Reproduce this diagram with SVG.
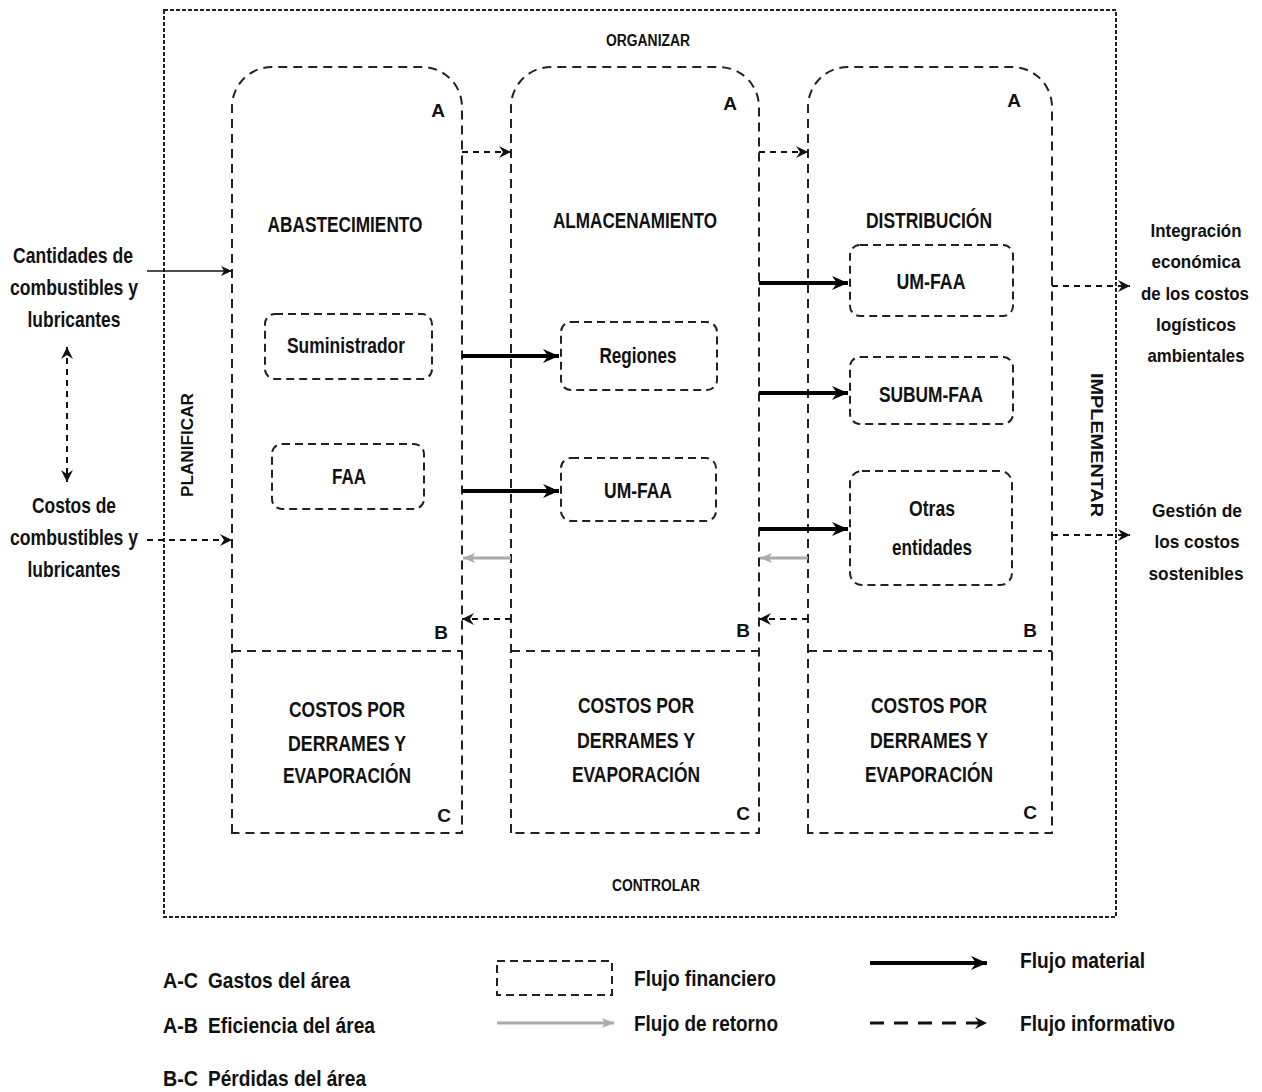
<svg xmlns="http://www.w3.org/2000/svg" width="1262" height="1092" viewBox="0 0 1262 1092">
<style>
.t{font-family:"Liberation Sans",Arial,sans-serif;font-weight:bold;font-size:22px;fill:#111;text-anchor:middle}
.s{font-size:16px}
.k{font-size:19px}
.r{font-size:19px}
.l{text-anchor:start}
.col{fill:none;stroke:#222;stroke-width:2;stroke-dasharray:9 6}
.box{fill:none;stroke:#222;stroke-width:2;stroke-dasharray:8 5}
.outer{fill:none;stroke:#222;stroke-width:2;stroke-dasharray:4 2}
.mat{fill:none;stroke:#000;stroke-width:4}
.info{fill:none;stroke:#111;stroke-width:2;stroke-dasharray:6 5}
.thin{fill:none;stroke:#111;stroke-width:1.6}
.ret{fill:none;stroke:#aaa;stroke-width:3}
</style>
<defs>
<marker id="mh" markerUnits="userSpaceOnUse" markerWidth="18" markerHeight="14" refX="16" refY="7" orient="auto"><path d="M0,0 L16,7 L0,14 L5,7 Z" fill="#000"/></marker>
<marker id="ih" markerUnits="userSpaceOnUse" markerWidth="13" markerHeight="12" refX="12" refY="6" orient="auto-start-reverse"><path d="M0,0 L12,6 L0,12 L4,6 Z" fill="#111"/></marker>
<marker id="th" markerUnits="userSpaceOnUse" markerWidth="12" markerHeight="10" refX="11" refY="5" orient="auto"><path d="M0,0 L11,5 L0,10 L3,5 Z" fill="#111"/></marker>
<marker id="gh" markerUnits="userSpaceOnUse" markerWidth="13" markerHeight="10" refX="12" refY="5" orient="auto"><path d="M0,0 L12,5 L0,10 L3,5 Z" fill="#aaa"/></marker>
</defs>
<rect width="1262" height="1092" fill="#fff"/>

<g id="marco">
<rect class="outer" x="164" y="10" width="952" height="907"/>
<text class="t s" x="648" y="46" textLength="84" lengthAdjust="spacingAndGlyphs">ORGANIZAR</text>
<text class="t s" x="656" y="891" textLength="88" lengthAdjust="spacingAndGlyphs">CONTROLAR</text>
<text class="t s" transform="translate(193,445) rotate(-90)" x="0" y="0" textLength="104" lengthAdjust="spacingAndGlyphs">PLANIFICAR</text>
<text class="t s" transform="translate(1091,445) rotate(90)" x="0" y="0" textLength="144" lengthAdjust="spacingAndGlyphs">IMPLEMENTAR</text>
</g>

<g id="abastecimiento">
<path class="col" d="M232,833 V107 A40,40 0 0 1 272,67 H422 A40,40 0 0 1 462,107 V833 Z"/>
<line class="col" x1="232" y1="651" x2="462" y2="651"/>
<text class="t" x="345" y="232" textLength="155" lengthAdjust="spacingAndGlyphs">ABASTECIMIENTO</text>
<text class="t k" x="438" y="117">A</text>
<text class="t k" x="441" y="639">B</text>
<text class="t k" x="444" y="822">C</text>
<text class="t" x="347" y="717" textLength="116" lengthAdjust="spacingAndGlyphs">COSTOS POR</text>
<text class="t" x="347" y="751" textLength="118" lengthAdjust="spacingAndGlyphs">DERRAMES Y</text>
<text class="t" x="347" y="783" textLength="128" lengthAdjust="spacingAndGlyphs">EVAPORACIÓN</text>
</g>
<g id="suministrador">
<rect class="box" x="265" y="314" width="167" height="65" rx="10"/>
<text class="t" x="346" y="353" textLength="118" lengthAdjust="spacingAndGlyphs">Suministrador</text>
</g>
<g id="faa">
<rect class="box" x="272" y="444" width="152" height="65" rx="10"/>
<text class="t" x="349" y="484" textLength="34" lengthAdjust="spacingAndGlyphs">FAA</text>
</g>

<g id="almacenamiento">
<path class="col" d="M511,833 V107 A40,40 0 0 1 551,67 H719 A40,40 0 0 1 759,107 V833 Z"/>
<line class="col" x1="511" y1="651" x2="759" y2="651"/>
<text class="t" x="635" y="228" textLength="164" lengthAdjust="spacingAndGlyphs">ALMACENAMIENTO</text>
<text class="t k" x="730" y="110">A</text>
<text class="t k" x="743" y="637">B</text>
<text class="t k" x="743" y="820">C</text>
<text class="t" x="636" y="713" textLength="116" lengthAdjust="spacingAndGlyphs">COSTOS POR</text>
<text class="t" x="636" y="748" textLength="118" lengthAdjust="spacingAndGlyphs">DERRAMES Y</text>
<text class="t" x="636" y="782" textLength="128" lengthAdjust="spacingAndGlyphs">EVAPORACIÓN</text>
</g>
<g id="regiones">
<rect class="box" x="561" y="322" width="156" height="68" rx="10"/>
<text class="t" x="638" y="363" textLength="77" lengthAdjust="spacingAndGlyphs">Regiones</text>
</g>
<g id="umfaa-alm">
<rect class="box" x="561" y="458" width="155" height="63" rx="10"/>
<text class="t" x="638" y="498" textLength="68" lengthAdjust="spacingAndGlyphs">UM-FAA</text>
</g>

<g id="distribucion">
<path class="col" d="M808,833 V107 A40,40 0 0 1 848,67 H1012 A40,40 0 0 1 1052,107 V833 Z"/>
<line class="col" x1="808" y1="651" x2="1052" y2="651"/>
<text class="t" x="929" y="228" textLength="126" lengthAdjust="spacingAndGlyphs">DISTRIBUCIÓN</text>
<text class="t k" x="1014" y="107">A</text>
<text class="t k" x="1030" y="637">B</text>
<text class="t k" x="1030" y="819">C</text>
<text class="t" x="929" y="713" textLength="116" lengthAdjust="spacingAndGlyphs">COSTOS POR</text>
<text class="t" x="929" y="748" textLength="118" lengthAdjust="spacingAndGlyphs">DERRAMES Y</text>
<text class="t" x="929" y="782" textLength="128" lengthAdjust="spacingAndGlyphs">EVAPORACIÓN</text>
</g>
<g id="umfaa-dist">
<rect class="box" x="850" y="245" width="163" height="71" rx="10"/>
<text class="t" x="931" y="289" textLength="69" lengthAdjust="spacingAndGlyphs">UM-FAA</text>
</g>
<g id="subumfaa">
<rect class="box" x="850" y="357" width="163" height="67" rx="10"/>
<text class="t" x="931" y="402" textLength="104" lengthAdjust="spacingAndGlyphs">SUBUM-FAA</text>
</g>
<g id="otras">
<rect class="box" x="850" y="471" width="162" height="114" rx="12"/>
<text class="t" x="932" y="516" textLength="46" lengthAdjust="spacingAndGlyphs">Otras</text>
<text class="t" x="932" y="555" textLength="80" lengthAdjust="spacingAndGlyphs">entidades</text>
</g>

<g id="entradas">
<text class="t" x="73" y="263" textLength="120" lengthAdjust="spacingAndGlyphs">Cantidades de</text>
<text class="t" x="74" y="295" textLength="128" lengthAdjust="spacingAndGlyphs">combustibles y</text>
<text class="t" x="74" y="327" textLength="93" lengthAdjust="spacingAndGlyphs">lubricantes</text>
<text class="t" x="74" y="513" textLength="84" lengthAdjust="spacingAndGlyphs">Costos de</text>
<text class="t" x="74" y="545" textLength="128" lengthAdjust="spacingAndGlyphs">combustibles y</text>
<text class="t" x="74" y="577" textLength="93" lengthAdjust="spacingAndGlyphs">lubricantes</text>
</g>

<g id="salidas">
<text class="t r" x="1196" y="237" textLength="91" lengthAdjust="spacingAndGlyphs">Integración</text>
<text class="t r" x="1196" y="268" textLength="89" lengthAdjust="spacingAndGlyphs">económica</text>
<text class="t r" x="1195" y="300" textLength="108" lengthAdjust="spacingAndGlyphs">de los costos</text>
<text class="t r" x="1196" y="331" textLength="80" lengthAdjust="spacingAndGlyphs">logísticos</text>
<text class="t r" x="1196" y="362" textLength="97" lengthAdjust="spacingAndGlyphs">ambientales</text>
<text class="t r" x="1197" y="517" textLength="90" lengthAdjust="spacingAndGlyphs">Gestión de</text>
<text class="t r" x="1197" y="548" textLength="85" lengthAdjust="spacingAndGlyphs">los costos</text>
<text class="t r" x="1196" y="580" textLength="95" lengthAdjust="spacingAndGlyphs">sostenibles</text>
</g>

<g id="conectores">
<line class="thin" x1="147" y1="271" x2="232" y2="271" marker-end="url(#th)"/>
<line class="info" x1="147" y1="540" x2="232" y2="540" marker-end="url(#ih)"/>
<line class="info" x1="67" y1="347" x2="67" y2="482" marker-start="url(#ih)" marker-end="url(#ih)"/>
<line class="info" x1="462" y1="152" x2="511" y2="152" marker-end="url(#ih)"/>
<line class="info" x1="759" y1="152" x2="808" y2="152" marker-end="url(#ih)"/>
<line class="info" x1="511" y1="619" x2="462" y2="619" marker-end="url(#ih)"/>
<line class="info" x1="808" y1="619" x2="759" y2="619" marker-end="url(#ih)"/>
<line class="ret" x1="511" y1="558" x2="463" y2="558" marker-end="url(#gh)"/>
<line class="ret" x1="808" y1="558" x2="760" y2="558" marker-end="url(#gh)"/>
<line class="mat" x1="462" y1="356" x2="559" y2="356" marker-end="url(#mh)"/>
<line class="mat" x1="462" y1="491" x2="559" y2="491" marker-end="url(#mh)"/>
<line class="mat" x1="759" y1="283" x2="848" y2="283" marker-end="url(#mh)"/>
<line class="mat" x1="759" y1="393" x2="848" y2="393" marker-end="url(#mh)"/>
<line class="mat" x1="759" y1="529" x2="848" y2="529" marker-end="url(#mh)"/>
<line class="info" x1="1052" y1="286" x2="1130" y2="286" marker-end="url(#ih)"/>
<line class="info" x1="1052" y1="535" x2="1130" y2="535" marker-end="url(#ih)"/>
</g>

<g id="leyenda">
<text class="t l" x="163" y="988" textLength="35" lengthAdjust="spacingAndGlyphs">A-C</text>
<text class="t l" x="208" y="988" textLength="142" lengthAdjust="spacingAndGlyphs">Gastos del área</text>
<text class="t l" x="163" y="1033" textLength="35" lengthAdjust="spacingAndGlyphs">A-B</text>
<text class="t l" x="208" y="1033" textLength="167" lengthAdjust="spacingAndGlyphs">Eficiencia del área</text>
<text class="t l" x="163" y="1086" textLength="35" lengthAdjust="spacingAndGlyphs">B-C</text>
<text class="t l" x="208" y="1086" textLength="158" lengthAdjust="spacingAndGlyphs">Pérdidas del área</text>
<rect class="box" x="497" y="961" width="115" height="34"/>
<text class="t l" x="634" y="986" textLength="142" lengthAdjust="spacingAndGlyphs">Flujo financiero</text>
<line class="ret" x1="497" y1="1023" x2="614" y2="1023" marker-end="url(#gh)"/>
<text class="t l" x="634" y="1031" textLength="144" lengthAdjust="spacingAndGlyphs">Flujo de retorno</text>
<line class="mat" x1="870" y1="963" x2="987" y2="963" marker-end="url(#mh)"/>
<text class="t l" x="1020" y="968" textLength="125" lengthAdjust="spacingAndGlyphs">Flujo material</text>
<line fill="none" stroke="#111" stroke-width="3" stroke-dasharray="14 10" x1="870" y1="1023" x2="987" y2="1023" marker-end="url(#ih)"/>
<text class="t l" x="1020" y="1031" textLength="155" lengthAdjust="spacingAndGlyphs">Flujo informativo</text>
</g>
</svg>
